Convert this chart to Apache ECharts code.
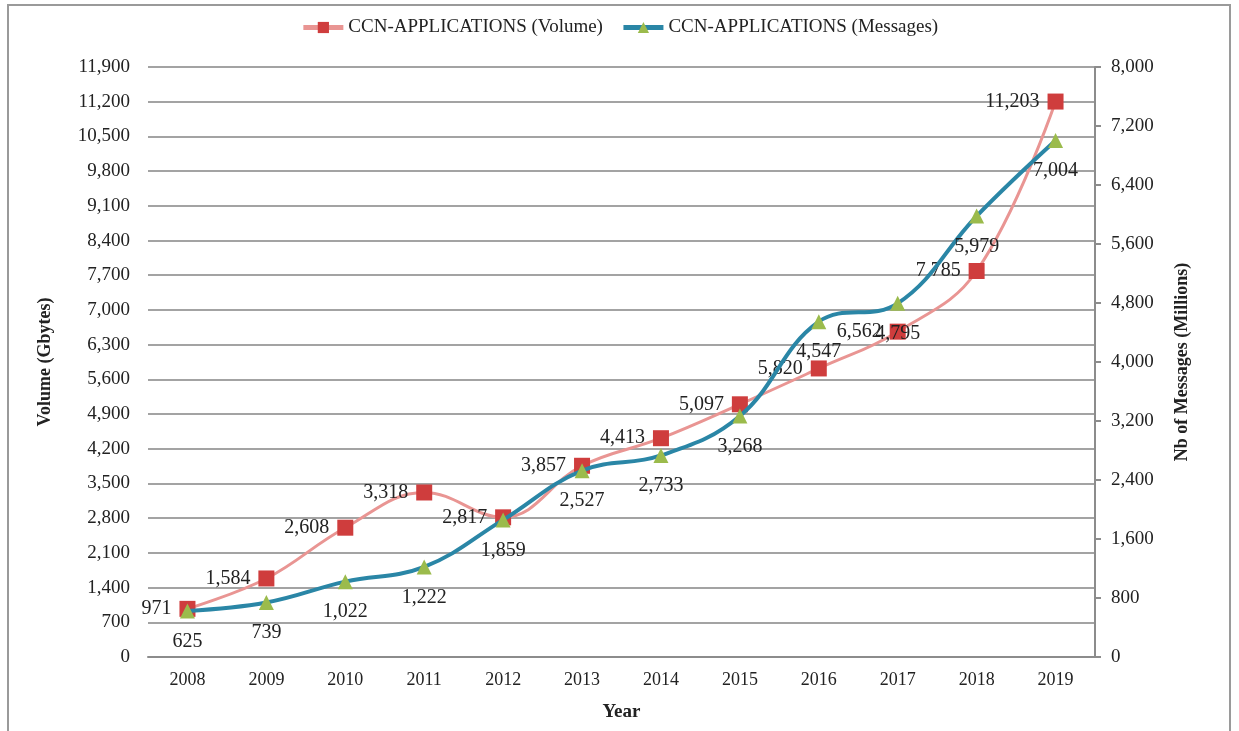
<!DOCTYPE html>
<html>
<head>
<meta charset="utf-8">
<script src="https://cdn.jsdelivr.net/npm/echarts@6/dist/echarts.min.js"></script>
<style>
  html, body { margin: 0; padding: 0; background: #fff; }
  #main { width: 1239px; height: 731px; }
</style>
</head>
<body>
<div id="main"></div>
<script>
// data
const years = ['2008', '2009', '2010', '2011', '2012', '2013', '2014', '2015', '2016', '2017', '2018', '2019'];
const volume = [971, 1584, 2608, 3318, 2817, 3857, 4413, 5097, 5820, 6562, 7785, 11203];
const messages = [625, 739, 1022, 1222, 1859, 2527, 2733, 3268, 4547, 4795, 5979, 7004];

const serif = 'Liberation Serif';
const fmt = v => Number(v).toLocaleString('en-US');

const chart = echarts.init(document.getElementById('main'));

const option = {
  backgroundColor: '#ffffff',
  animation: false,
  textStyle: { fontFamily: serif, color: '#222' },
  graphic: [{
    type: 'rect',
    shape: { x: 8, y: 5, width: 1222, height: 740 },
    style: { fill: 'none', stroke: '#9a9a9a', lineWidth: 2 },
    silent: true,
    z: -1
  }],
  legend: {
    top: 13,
    left: 'center',
    itemGap: 18,
    itemWidth: 40,
    itemHeight: 14,
    textStyle: { fontFamily: serif, fontSize: 19, color: '#222' },
    data: [
      { name: 'CCN-APPLICATIONS (Volume)', lineStyle: { width: 5 } },
      { name: 'CCN-APPLICATIONS (Messages)', lineStyle: { width: 5 } }
    ]
  },
  grid: { left: 148, right: 144, top: 67, bottom: 74 },
  xAxis: {
    type: 'category',
    data: years,
    boundaryGap: true,
    name: 'Year',
    nameLocation: 'middle',
    nameGap: 46,
    nameTextStyle: { fontFamily: serif, fontSize: 19, fontWeight: 'bold', color: '#222' },
    axisLine: { lineStyle: { color: '#8c8c8c', width: 2 } },
    axisTick: { show: false },
    axisLabel: { fontFamily: serif, fontSize: 18, color: '#222', margin: 14 }
  },
  yAxis: [
    {
      type: 'value',
      min: 0,
      max: 11900,
      interval: 700,
      name: 'Volume (Gbytes)',
      nameLocation: 'middle',
      nameGap: 94,
      nameRotate: 90,
      nameTextStyle: { fontFamily: serif, fontSize: 18, fontWeight: 'bold', color: '#222' },
      axisLine: { show: false },
      axisTick: { show: false },
      axisLabel: { fontFamily: serif, fontSize: 19, color: '#222', margin: 18, formatter: fmt },
      splitLine: { lineStyle: { color: '#a3a3a3', width: 2 } }
    },
    {
      type: 'value',
      min: 0,
      max: 8000,
      interval: 800,
      position: 'right',
      name: 'Nb of Messages (Millions)',
      nameLocation: 'middle',
      nameGap: 78,
      nameRotate: 90,
      nameTextStyle: { fontFamily: serif, fontSize: 18, fontWeight: 'bold', color: '#222' },
      axisLine: { show: true, lineStyle: { color: '#8c8c8c', width: 2 } },
      axisTick: { show: true, length: 6, lineStyle: { color: '#8c8c8c', width: 2 } },
      axisLabel: { fontFamily: serif, fontSize: 19, color: '#222', margin: 16, formatter: fmt },
      splitLine: { show: false }
    }
  ],
  series: [
    {
      name: 'CCN-APPLICATIONS (Volume)',
      type: 'line',
      yAxisIndex: 0,
      data: volume,
      smooth: 0.4,
      symbol: 'rect',
      symbolSize: 16,
      itemStyle: { color: '#cf3d3d' },
      lineStyle: { color: '#e99593', width: 3 },
      label: {
        show: true,
        position: 'left',
        distance: 8,
        fontFamily: serif,
        fontSize: 20,
        color: '#222',
        formatter: p => fmt(p.value)
      },
      z: 2
    },
    {
      name: 'CCN-APPLICATIONS (Messages)',
      type: 'line',
      yAxisIndex: 1,
      data: messages,
      smooth: 0.4,
      symbol: 'triangle',
      symbolSize: 15,
      itemStyle: { color: '#9bbb4c' },
      lineStyle: { color: '#2a86a6', width: 4 },
      label: {
        show: true,
        position: 'bottom',
        distance: 13,
        fontFamily: serif,
        fontSize: 20,
        color: '#222',
        formatter: p => fmt(p.value)
      },
      z: 3
    }
  ]
};

chart.setOption(option);
</script>
</body>
</html>
